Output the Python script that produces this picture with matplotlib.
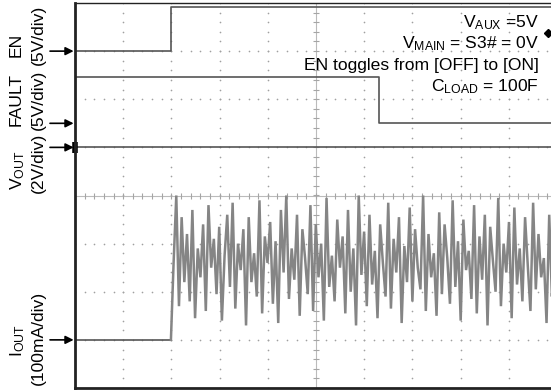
import numpy as np
import matplotlib.pyplot as plt
from matplotlib.lines import Line2D

plt.rcParams['font.family'] = ['Liberation Sans', 'DejaVu Sans']
plt.rcParams['mathtext.fontset'] = 'custom'
plt.rcParams['mathtext.rm'] = 'Liberation Sans'

# scope settings: reference level (div) and scale per division
en_ref, en_scale = 3.0, 5.0        # V/div
fault_ref, fault_scale = 1.5, 5.0  # V/div
vout_ref, vout_scale = 1.0, 2.0    # V/div
iout_ref, iout_scale = -3.0, 100.0  # mA/div

# time in divisions
en_t = [0.0, 1.99, 1.99, 10.0]
en_v = [0.0, 0.0, 4.6, 4.6]

fault_t = [0.0, 6.31, 6.31, 10.0]
fault_v = [4.8, 4.8, 0.0, 0.0]

vout_t = [0.0, 10.0]
vout_v = [0.0, 0.0]

iout_base_t = [0.0, 1.99]
iout_base = [0.0, 0.0]
# load current after EN goes high (mA), read stroke by stroke off the trace
iout_noise = [0, 160, 300, 70, 255, 120, 220, 80, 270, 45, 190, 130, 240, 60, 280, 150,
              210, 95, 235, 40, 175, 260, 110, 285, 65, 200, 145, 230, 30, 255, 120, 180,
              90, 290, 55, 215, 160, 245, 75, 205, 35, 270, 140, 300, 85, 190, 125, 260,
              50, 230, 170, 95, 280, 60, 240, 130, 200, 40, 295, 110, 175, 80, 250, 150,
              215, 55, 270, 100, 190, 30, 300, 135, 225, 70, 260, 115, 185, 45, 240, 160,
              90, 285, 65, 210, 140, 255, 35, 195, 120, 275, 80, 230, 150, 105, 300, 60,
              220, 130, 180, 50, 265, 95, 240, 170, 75, 290, 110, 205, 40, 250, 145, 185,
              85, 280, 55, 215, 125, 260, 30, 235, 165, 100, 295, 70, 200, 140, 245, 45,
              275, 115, 190, 80, 255, 155, 60, 285, 105, 220, 130, 170, 35, 260, 90, 230]
iout_noise_t = np.linspace(1.99, 9.95, len(iout_noise))

W, H = 551, 391
fig = plt.figure(figsize=(W / 100, H / 100), dpi=100)
ax = fig.add_axes([75 / W, 3 / H, (557 - 75) / W, 385 / H])
ax.set_xlim(0, 10)
ax.set_ylim(-4, 4)
ax.set_xticks([])
ax.set_yticks([])
ax.spines['right'].set_visible(False)
ax.spines['left'].set_linewidth(2)
ax.spines['bottom'].set_linewidth(2)
ax.spines['top'].set_linewidth(1)
for s in ax.spines.values():
    s.set_color('#222222')

# graticule: dotted lines, centre axes with ticks
minor = np.arange(0, 10.01, 0.2)
minor_y = np.arange(-4, 4.01, 0.2)
dot = '#a0a0a0'
for k in range(1, 10):
    if k == 5:
        continue
    ax.plot(np.full_like(minor_y, k), minor_y, ls='none', marker='o', ms=1.2, color=dot, mew=0)
for k in range(-3, 4):
    if k == 0:
        continue
    ax.plot(minor, np.full_like(minor, k), ls='none', marker='o', ms=1.2, color=dot, mew=0)
ax.axvline(5, color='#bbbbbb', lw=0.8)
ax.axhline(0, color='#bbbbbb', lw=0.8)
ax.plot(np.full_like(minor_y, 5), minor_y, ls='none', marker='_', ms=5, color='#a5a5a5', mew=0.8)
ax.plot(minor, np.zeros_like(minor), ls='none', marker='|', ms=5, color='#a5a5a5', mew=0.8)

trace = '#555555'
ax.plot(en_t, en_ref + np.array(en_v) / en_scale, color=trace, lw=1.2)
ax.plot(fault_t, fault_ref + np.array(fault_v) / fault_scale, color=trace, lw=1.2)
ax.plot(vout_t, vout_ref + np.array(vout_v) / vout_scale, color=trace, lw=1.2)
ax.plot(iout_base_t, iout_ref + np.array(iout_base) / iout_scale, color=trace, lw=1.2)
ax.plot(iout_noise_t, iout_ref + np.array(iout_noise) / iout_scale, color='#858585', lw=1.8,
        solid_joinstyle='miter')

# channel reference arrows
for ref in [en_ref, fault_ref, vout_ref, iout_ref]:
    ax.annotate('', xy=(0, ref), xytext=(-18, 0), textcoords='offset points',
                arrowprops=dict(arrowstyle='-|>', color='k', lw=1.2, mutation_scale=12,
                                shrinkA=0, shrinkB=1),
                annotation_clip=False)
ax.plot([0, 0], [vout_ref - 0.12, vout_ref + 0.12], color='k', lw=4, clip_on=False,
        solid_capstyle='butt')

fs = 12.6
lab = dict(rotation=90, ha='center', va='center', fontsize=fs)
fig.text(16 / W, 1 - 45 / H, 'EN', **lab)
fig.text(38 / W, 1 - 35 / H, '(5V/div)', **lab)
fig.text(16 / W, 1 - 99 / H, 'FAULT', **lab)
fig.text(38 / W, 1 - 100 / H, '(5V/div)', **lab)
fig.text(18 / W, 1 - 170 / H, r'$\mathregular{V_{OUT}}$', **lab)
fig.text(38 / W, 1 - 163 / H, '(2V/div)', **lab)
fig.text(18 / W, 1 - 341 / H, r'$\mathregular{I_{OUT}}$', **lab)
fig.text(38 / W, 1 - 338 / H, '(100mA/div)', **lab)

note = dict(ha='right', va='baseline', fontsize=fs)
fig.text(539 / W, 1 - 27 / H, r'$\mathregular{V_{AUX}}$ =5V', **note)
fig.text(539 / W, 1 - 48 / H, r'$\mathregular{V_{MAIN}}$ = S3# = 0V', **note)
fig.text(539 / W, 1 - 70 / H, 'EN toggles from [OFF] to [ON]', **note)
fig.text(539 / W, 1 - 91 / H, r'$\mathregular{C_{LOAD}}$ = 100F', **note)
fig.add_artist(Line2D([548 / W], [1 - 33 / H], marker='D', ms=4, color='k'))

fig.savefig('out.png', dpi=100)
